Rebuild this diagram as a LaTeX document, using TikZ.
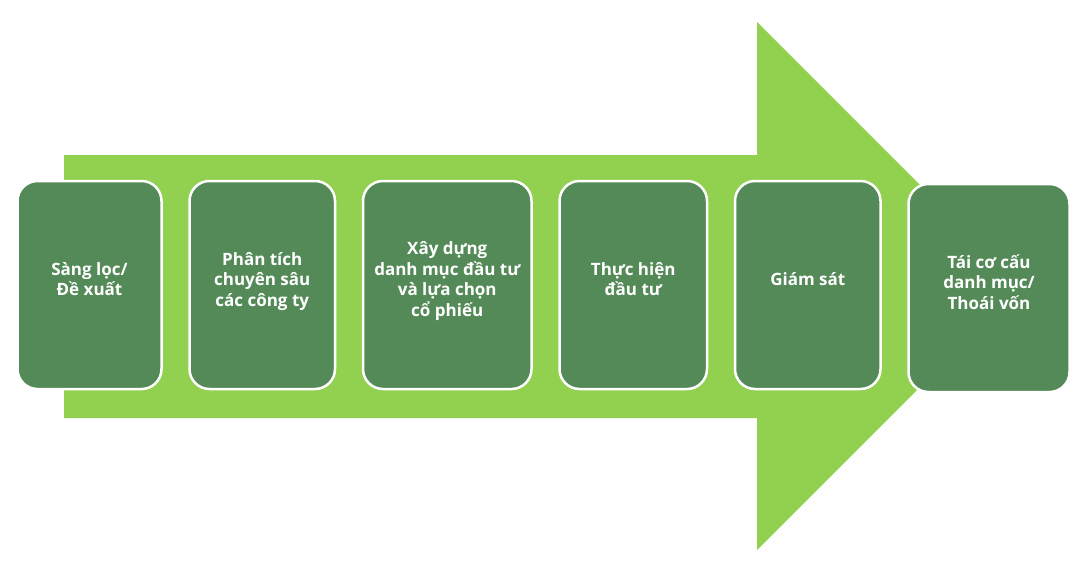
\documentclass[tikz,border=0pt]{standalone}
\usepackage{fontspec}
\setmainfont{Open Sans}
\usetikzlibrary{positioning}
\definecolor{arrowgreen}{RGB}{146,208,80}
\definecolor{stepgreen}{RGB}{84,138,88}
\begin{document}
\begin{tikzpicture}[x=1pt, y=-1pt, node distance = 25.5pt]
 \tikzstyle{S} = [fill=stepgreen, draw=white, line width=2.5pt, rounded corners=20pt, minimum height=208pt, text=white, align=center, font=\bfseries\fontsize{17}{20.5}\selectfont, inner sep=0pt, text depth=12pt]
 \useasboundingbox (0,0) rectangle (1084,576);

 % big arrow behind the steps
 \fill[arrowgreen] (64,155) -- (757,155) -- (757,22) -- (1021,286) -- (757,550) -- (757,418) -- (64,418) -- cycle;

 \node [S, minimum width=144pt] (S1) at (89.5,285) {Sàng lọc/\\Đề xuất};
 \node [S, minimum width=145.5pt, right = of S1] (S2) {Phân tích\\chuyên sâu\\các công ty};
 \node [S, minimum width=168.5pt, right = of S2] (S3) {Xây dựng\\danh mục đầu tư\\và lựa chọn\\cổ phiếu};
 \node [S, minimum width=147.5pt, right = of S3] (S4) {Thực hiện\\đầu tư};
 \node [S, minimum width=145.5pt, right = of S4] (S5) {Giám sát};
 \node [S, minimum width=161pt, right = of S5, yshift=-3pt] (S6) {Tái cơ cấu\\danh mục/\\Thoái vốn};
\end{tikzpicture}
\end{document}
